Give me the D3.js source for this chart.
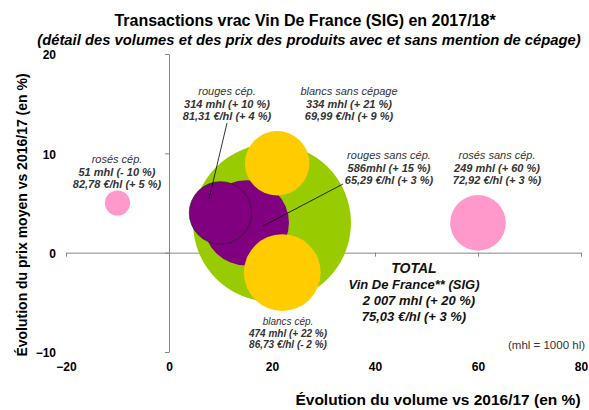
<!DOCTYPE html>
<html>
<head>
<meta charset="utf-8">
<script src="https://cdn.jsdelivr.net/npm/d3@7"></script>
<style>
  body { margin: 0; background: #fff; }
  svg { font-family: "Liberation Sans", Arial, sans-serif; }
  .axis path, .axis line { stroke: #868686; }
  .lbl text { fill: #333; font-style: italic; }
</style>
</head>
<body>
<svg width="589" height="410"></svg>
<script>
const svg = d3.select("svg"),
  width = +svg.attr("width"),
  height = +svg.attr("height");

// Data (volumes in mhl, changes in % vs 2016/17)
const names = ["TOTAL", "rouges sans cép.", "rouges cép.", "blancs sans cépage", "blancs cép.", "rosés cép.", "rosés sans cép."];
const volumes = [2007, 586, 314, 334, 474, 51, 249];
const volChange = [20, 15, 10, 21, 22, -10, 60];
const priceChange = [3, 3, 4, 9, -2, 5, 3];
const volText = ["2 007 mhl (+ 20 %)", "586mhl (+ 15 %)", "314 mhl (+ 10 %)", "334 mhl (+ 21 %)", "474 mhl (+ 22 %)", "51 mhl (- 10 %)", "249 mhl (+ 60 %)"];
const priceText = ["75,03 €/hl (+ 3 %)", "65,29 €/hl (+ 3 %)", "81,31 €/hl (+ 4 %)", "69,99 €/hl (+ 9 %)", "86,73 €/hl (- 2 %)", "82,78 €/hl (+ 5 %)", "72,92 €/hl (+ 3 %)"];
const colors = ["#99cc00", "#800080", "#800080", "#ffcc00", "#ffcc00", "#ff99cc", "#ff99cc"];
const xTicks = [-20, 0, 20, 40, 60, 80];
const yTicks = [-10, 0, 10, 20];

// Scales
const x = d3.scaleLinear().domain([-20, 80]).range([66, 581]);
const y = d3.scaleLinear().domain([-10, 20]).range([352, 54]);
const r = d3.scaleSqrt().domain([0, 2007]).range([0, 79]);

// Titles
svg.append("text")
  .attr("x", 305).attr("y", 26)
  .attr("text-anchor", "middle")
  .style("font-size", "16px").style("font-weight", "bold")
  .text("Transactions vrac Vin De France (SIG) en 2017/18*");

svg.append("text")
  .attr("x", 309).attr("y", 45)
  .attr("text-anchor", "middle")
  .style("font-size", "14.8px").style("font-weight", "bold").style("font-style", "italic")
  .text("(détail des volumes et des prix des produits avec et sans mention de cépage)");

// Axes lines through origin
svg.append("g")
  .attr("class", "axis")
  .attr("transform", `translate(0,${y(0)})`)
  .call(d3.axisBottom(x).tickValues(xTicks).tickSize(4).tickSizeOuter(0).tickFormat(""));

svg.append("g")
  .attr("class", "axis")
  .attr("transform", `translate(${x(0)},0)`)
  .call(d3.axisLeft(y).tickValues(yTicks).tickSize(4).tickSizeOuter(0).tickFormat(""));

// Tick labels at the low edge
const xLab = svg.append("g")
  .attr("transform", `translate(0,${y(-10) + 10})`)
  .call(d3.axisBottom(x).tickValues(xTicks).tickSize(0).tickPadding(0));
const yLab = svg.append("g")
  .attr("transform", `translate(56,1)`)
  .call(d3.axisLeft(y).tickValues(yTicks).tickSize(0).tickPadding(0));
[xLab, yLab].forEach(g => {
  g.select(".domain").remove();
  g.selectAll("text")
    .style("font-family", "Liberation Sans, Arial, sans-serif")
    .style("font-size", "12px").style("font-weight", "bold").attr("fill", "#000");
});

// Axis titles
svg.append("text")
  .attr("x", 438).attr("y", 405)
  .attr("text-anchor", "middle")
  .style("font-size", "15.5px").style("font-weight", "bold")
  .text("Évolution du volume vs 2016/17 (en %)");

svg.append("text")
  .attr("transform", "translate(27,215) rotate(-90)")
  .attr("text-anchor", "middle")
  .style("font-size", "14px").style("font-weight", "bold")
  .text("Évolution du prix moyen vs 2016/17 (en %)");

// Bubbles
svg.append("g")
  .selectAll("circle")
  .data(d3.range(names.length))
  .join("circle")
  .attr("cx", i => x(volChange[i]))
  .attr("cy", i => y(priceChange[i]))
  .attr("r", i => r(volumes[i]))
  .attr("fill", i => colors[i])
  .attr("stroke", i => i === 2 ? "#222" : "none")
  .attr("stroke-width", 0.7);

// Leader lines
const leaders = [
  [227, 123, 209, 199],
  [343, 184, 263, 226]
];
svg.append("g")
  .selectAll("line")
  .data(leaders)
  .join("line")
  .attr("x1", d => d[0]).attr("y1", d => d[1])
  .attr("x2", d => d[2]).attr("y2", d => d[3])
  .attr("stroke", "#000").attr("stroke-width", 0.8);

// Bubble labels: [index, center x, first baseline, font size]
const labelPos = [
  [2, 227, 95, 11],
  [3, 349, 95, 11],
  [1, 389, 159, 11],
  [6, 497, 159, 11],
  [5, 117, 163, 11],
  [4, 288, 325, 10]
];
labelPos.forEach(([i, cx, by, fs]) => {
  const g = svg.append("g").attr("class", "lbl").style("font-size", fs + "px");
  [names[i], volText[i], priceText[i]].forEach((t, k) => {
    g.append("text")
      .attr("x", cx).attr("y", by + k * (fs + 1.5))
      .attr("text-anchor", "middle")
      .style("font-weight", k === 0 ? "normal" : "bold")
      .text(t);
  });
});

// TOTAL block
const tot = svg.append("g").style("font-size", "13px").style("font-style", "italic").style("font-weight", "bold");
["TOTAL", "Vin De France** (SIG)", volText[0], priceText[0]].forEach((t, k) => {
  tot.append("text")
    .attr("x", k === 2 ? 419 : 414).attr("y", 273 + k * 16)
    .attr("text-anchor", "middle")
    .attr("fill", "#111")
    .style("font-size", k === 0 ? "14px" : null)
    .text(t);
});

svg.append("text")
  .attr("x", 508).attr("y", 349)
  .style("font-size", "11.5px").attr("fill", "#333")
  .text("(mhl = 1000 hl)");
</script>
</body>
</html>
